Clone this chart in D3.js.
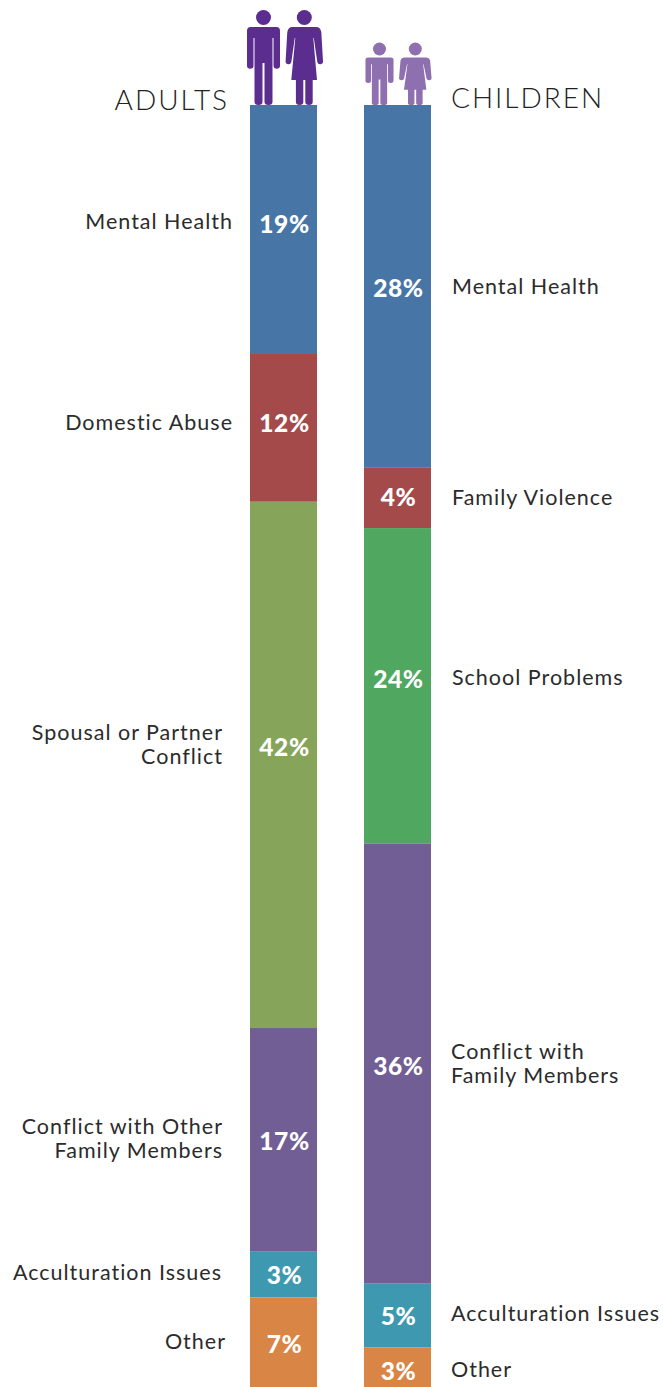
<!DOCTYPE html>
<html>
<head>
<meta charset="utf-8">
<script src="https://cdn.jsdelivr.net/npm/d3@7"></script>
<style>
  html, body { margin: 0; padding: 0; background: #fff; }
  svg { display: block; }
  text { font-family: Lato, "Open Sans", sans-serif; }
  .name { font-size: 21.5px; font-weight: 400; fill: #2b2b2b; letter-spacing: 1px; }
  .pct { font-size: 24.5px; font-weight: 900; fill: #fff; text-anchor: middle; letter-spacing: 0.6px; }
  .title { font-size: 28px; font-weight: 300; fill: #222; letter-spacing: 2px; }
</style>
</head>
<body>
<div id="chart"></div>
<script>
// Segment heights as measured in the picture, in percent of the column
var adultShares = [19.35, 11.6, 41.05, 17.4, 3.6, 7.0];
var childShares = [28.3, 4.7, 24.6, 34.3, 5.0, 3.1];

// Printed values
var adultPct = ["19%", "12%", "42%", "17%", "3%", "7%"];
var childPct = ["28%", "4%", "24%", "36%", "5%", "3%"];

var adultNames = [["Mental Health"], ["Domestic Abuse"], ["Spousal or Partner", "Conflict"],
    ["Conflict with Other", "Family Members"], ["Acculturation Issues"], ["Other"]];
var childNames = [["Mental Health"], ["Family Violence"], ["School Problems"],
    ["Conflict with", "Family Members"], ["Acculturation Issues"], ["Other"]];

var adultColors = ["#4776a6", "#a54a4b", "#86a45a", "#705e94", "#3e98af", "#d98545"];
var childColors = ["#4776a6", "#a54a4b", "#4fa760", "#705e94", "#3e98af", "#d98545"];

var width = 663, height = 1387;

var svg = d3.select("#chart").append("svg")
    .attr("width", width)
    .attr("height", height);

var x = d3.scaleBand().domain(["Adults", "Children"]).range([250, 431]).paddingInner(0.412);
var y = d3.scaleLinear().domain([0, 100]).range([105, 1387]);

// hand nudges to sit the text where the original has it
var adultPctNudge = [-4, -3, -17, 2, 2, 3];
var childPctNudge = [3, 0, -6, 4, 2, 5];
var adultNameNudge = [-7, -4, -20, -1, -1, 0];
var childNameNudge = [1, 0, -8, 1, -1, 3];
var adultNameRight = [233, 233, 223, 223, 222, 226];
var childNameLeft = [452, 452, 452, 451, 451, 451];

function drawColumn(key, shares, pct, names, colors, pctNudge, nameNudge, nameX, anchor) {
    var start = 0;
    var rows = shares.map(function (s, i) {
        var r = { y0: start, y1: start + s, pct: pct[i], names: names[i], color: colors[i], i: i };
        start += s;
        return r;
    });

    var g = svg.append("g");

    g.selectAll("rect").data(rows).enter().append("rect")
        .attr("x", x(key))
        .attr("width", x.bandwidth())
        .attr("y", function (d) { return y(d.y0); })
        .attr("height", function (d) { return y(d.y1) - y(d.y0); })
        .attr("fill", function (d) { return d.color; });

    g.selectAll(".pct").data(rows).enter().append("text")
        .attr("class", "pct")
        .attr("x", x(key) + x.bandwidth() / 2 + 1)
        .attr("y", function (d) { return (y(d.y0) + y(d.y1)) / 2 + pctNudge[d.i] + 8; })
        .text(function (d) { return d.pct; });

    var labels = g.selectAll(".name").data(rows).enter().append("text")
        .attr("class", "name")
        .attr("text-anchor", anchor)
        .attr("y", function (d) {
            return (y(d.y0) + y(d.y1)) / 2 + nameNudge[d.i] + 7 - (d.names.length - 1) * 12;
        });

    labels.selectAll("tspan").data(function (d) {
        return d.names.map(function (t) { return { t: t, i: d.i }; });
    }).enter().append("tspan")
        .attr("x", function (d) { return nameX(d.i); })
        .attr("dy", function (d, j) { return j ? 24 : 0; })
        .text(function (d) { return d.t; });
}

drawColumn("Adults", adultShares, adultPct, adultNames, adultColors, adultPctNudge, adultNameNudge,
    function (i) { return adultNameRight[i]; }, "end");
drawColumn("Children", childShares, childPct, childNames, childColors, childPctNudge, childNameNudge,
    function (i) { return childNameLeft[i]; }, "start");

// Titles
svg.append("text").attr("class", "title").attr("x", 229).attr("y", 110)
    .attr("text-anchor", "end").text("ADULTS");
svg.append("text").attr("class", "title").attr("x", 451).attr("y", 108).text("CHILDREN");

// People icons, local coords: centre x = 0, shoulders y = 0, feet y = 78
var manPath = "M-13,0 H13 Q16.5,0 16.5,4 V38.5 A3.25,3.25 0 0 1 10,38.5 V11 H9 V75 A4,3 0 0 1 1,75 V36 H-1 V75 A4,3 0 0 1 -9,75 V11 H-10 V38.5 A3.25,3.25 0 0 1 -16.5,38.5 V4 Q-16.5,0 -13,0 Z";
var womanPath = "M-12,0 H12 Q16,0 17,5 L18.7,34 A2.9,2.9 0 0 1 13,35 L9.5,11 H9 L12.7,53 H8.4 V75 A3.7,3 0 0 1 1,75 V53 H-1 V75 A3.7,3 0 0 1 -8.4,75 V53 H-13 L-9,11 H-9.5 L-13,35 A2.9,2.9 0 0 1 -18.7,34 L-17,5 Q-16,0 -12,0 Z";

function person(path, cx, headY, r, shoulderY, sx, sy, color) {
    svg.append("circle").attr("cx", cx).attr("cy", headY).attr("r", r).attr("fill", color);
    svg.append("path").attr("d", path).attr("fill", color)
        .attr("transform", "translate(" + cx + "," + shoulderY + ") scale(" + sx + "," + sy + ")");
}

person(manPath, 263.5, 17.5, 7.5, 27, 1, 1, "#5b2d8e");
person(womanPath, 304.3, 17.5, 7.5, 27, 1, 1, "#5b2d8e");
person(manPath, 379.5, 49, 6.5, 57.5, 0.85, 0.61, "#8e6faf");
person(womanPath, 415.3, 49, 6.5, 57.5, 0.87, 0.61, "#8e6faf");
</script>
</body>
</html>
